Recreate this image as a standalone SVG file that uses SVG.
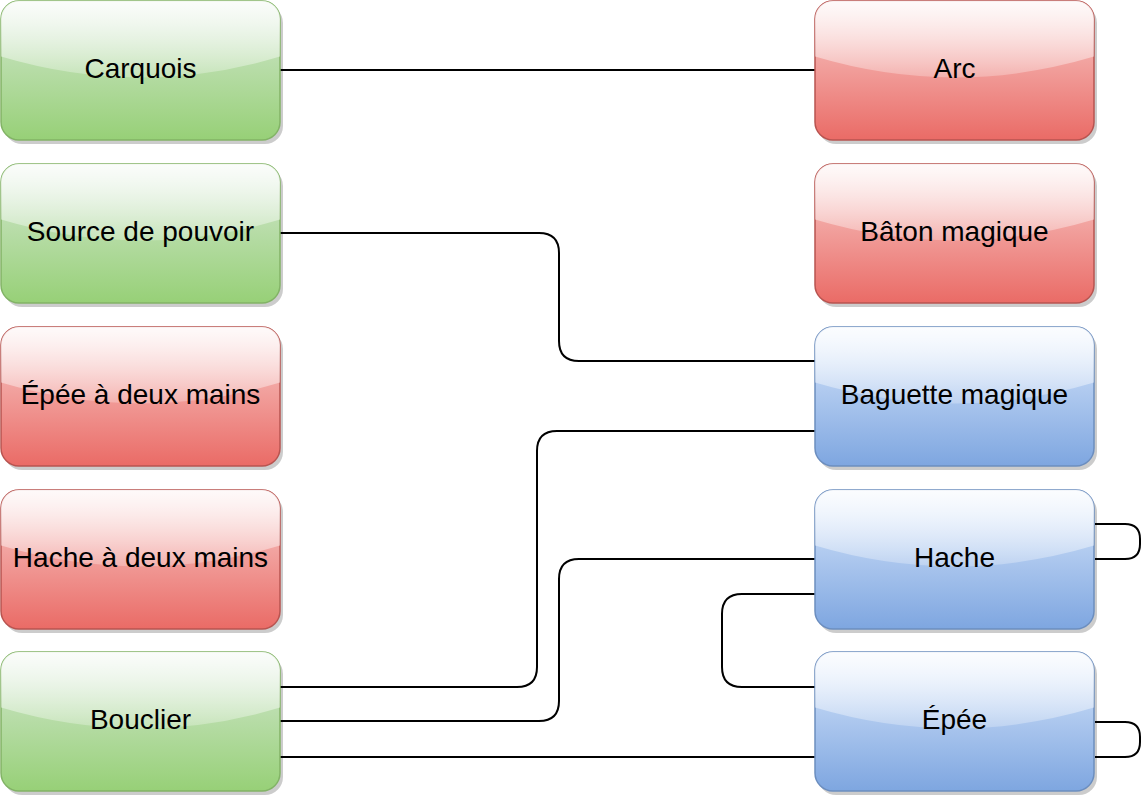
<svg xmlns="http://www.w3.org/2000/svg" xmlns:xlink="http://www.w3.org/1999/xlink" width="1148" height="805" viewBox="0 0 1148 805">
<style>
.sh{fill:#000;fill-opacity:0.2}
.g{fill:url(#gG);stroke:#82b366;stroke-width:1.5}
.r{fill:url(#gR);stroke:#b85450;stroke-width:1.5}
.b{fill:url(#gB);stroke:#6c8ebf;stroke-width:1.5}
.gl{fill:url(#gW)}
text{font-family:"Liberation Sans",Arial,sans-serif;font-size:28px;fill:#000;text-anchor:middle;dominant-baseline:central}
.c{fill:none;stroke:#000;stroke-width:2}
</style>
<defs>
<linearGradient id="gG" x1="0" y1="0" x2="0" y2="1"><stop offset="0" stop-color="#d5e8d4"/><stop offset="1" stop-color="#97d077"/></linearGradient>
<linearGradient id="gR" x1="0" y1="0" x2="0" y2="1"><stop offset="0" stop-color="#f8cecc"/><stop offset="1" stop-color="#ea6b66"/></linearGradient>
<linearGradient id="gB" x1="0" y1="0" x2="0" y2="1"><stop offset="0" stop-color="#dae8fc"/><stop offset="1" stop-color="#7ea6e0"/></linearGradient>
<linearGradient id="gW" x1="0" y1="0" x2="0" y2="1"><stop offset="0" stop-color="#fff" stop-opacity="0.9"/><stop offset="1" stop-color="#fff" stop-opacity="0.25"/></linearGradient>
<rect id="sh" x="3" y="4" width="279" height="139" rx="18" class="sh"/>
<path id="glass" class="gl" d="M0,55.6 V18 A18,18 0 0 1 18,0 H261 A18,18 0 0 1 279,18 V55.6 Q139.5,97.3 0,55.6 Z"/>
</defs>
<g id="edges">
<path class="c" d="M280,70 H815"/>
<path class="c" d="M280,233 H539 Q559,233 559,253 V341 Q559,361 579,361 H815"/>
<path class="c" d="M815,431 H557 Q537,431 537,451 V667 Q537,687 517,687 H280"/>
<path class="c" d="M815,559 H579 Q559,559 559,579 V701 Q559,721 539,721 H280"/>
<path class="c" d="M280,757 H815"/>
<path class="c" d="M815,594 H742 Q722,594 722,614 V667 Q722,687 742,687 H815"/>
<path class="c" d="M1095,524 H1125 Q1140,524 1140,539 V544 Q1140,559 1125,559 H1095"/>
<path class="c" d="M1095,722 H1125 Q1140,722 1140,737 V742 Q1140,757 1125,757 H1095"/>
</g>
<g id="carquois" transform="translate(1,1)"><use xlink:href="#sh"/><rect class="g" width="279" height="139" rx="18"/><use xlink:href="#glass"/><text x="139.5" y="67.5">Carquois</text></g>
<g id="source" transform="translate(1,164)"><use xlink:href="#sh"/><rect class="g" width="279" height="139" rx="18"/><use xlink:href="#glass"/><text x="139.5" y="67.5">Source de pouvoir</text></g>
<g id="epee2" transform="translate(1,327)"><use xlink:href="#sh"/><rect class="r" width="279" height="139" rx="18"/><use xlink:href="#glass"/><text x="139.5" y="67.5">Épée à deux mains</text></g>
<g id="hache2" transform="translate(1,490)"><use xlink:href="#sh"/><rect class="r" width="279" height="139" rx="18"/><use xlink:href="#glass"/><text x="139.5" y="67.5">Hache à deux mains</text></g>
<g id="bouclier" transform="translate(1,652)"><use xlink:href="#sh"/><rect class="g" width="279" height="139" rx="18"/><use xlink:href="#glass"/><text x="139.5" y="67.5">Bouclier</text></g>
<g id="arc" transform="translate(815,1)"><use xlink:href="#sh"/><rect class="r" width="279" height="139" rx="18"/><use xlink:href="#glass"/><text x="139.5" y="67.5">Arc</text></g>
<g id="baton" transform="translate(815,164)"><use xlink:href="#sh"/><rect class="r" width="279" height="139" rx="18"/><use xlink:href="#glass"/><text x="139.5" y="67.5">Bâton magique</text></g>
<g id="baguette" transform="translate(815,327)"><use xlink:href="#sh"/><rect class="b" width="279" height="139" rx="18"/><use xlink:href="#glass"/><text x="139.5" y="67.5">Baguette magique</text></g>
<g id="hache" transform="translate(815,490)"><use xlink:href="#sh"/><rect class="b" width="279" height="139" rx="18"/><use xlink:href="#glass"/><text x="139.5" y="67.5">Hache</text></g>
<g id="epee" transform="translate(815,652)"><use xlink:href="#sh"/><rect class="b" width="279" height="139" rx="18"/><use xlink:href="#glass"/><text x="139.5" y="67.5">Épée</text></g>
</svg>
